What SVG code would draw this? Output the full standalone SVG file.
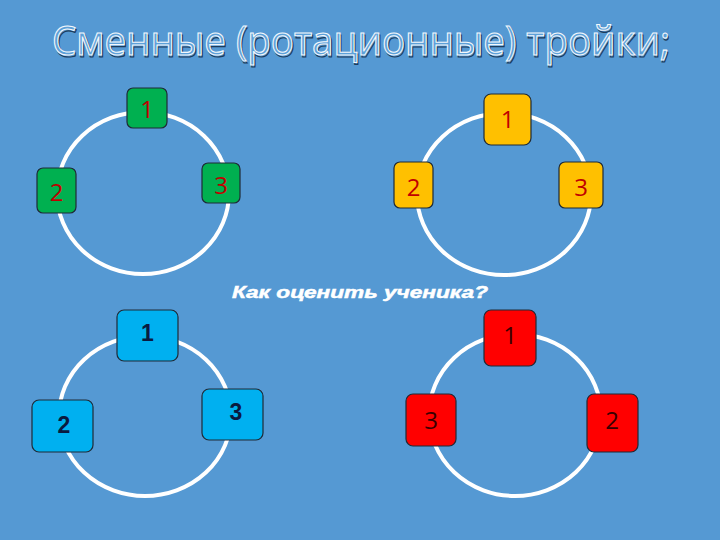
<svg xmlns="http://www.w3.org/2000/svg" width="720" height="540" viewBox="0 0 720 540">
<style>
.ring{fill:none;stroke:#ffffff;stroke-width:4}
.box{stroke:#1f2a36;stroke-width:1.2}
.g{fill:#00b050}.y{fill:#ffc000}.b{fill:#00b0f0}.r{fill:#ff0000}
.num{font-family:"Open Sans","Noto Sans",sans-serif;font-size:24px;text-anchor:middle;dominant-baseline:central}
.rd{fill:#c00000}.nv{fill:#0a1a40;font-weight:bold;font-family:"Liberation Sans",sans-serif;font-size:23px}.dk{fill:#3a0000}
.title{font-family:"Open Sans","Noto Sans",sans-serif;font-size:40px}
</style>
<rect width="720" height="540" fill="#5599d3"/>
<g id="title">
<text class="title" x="52" y="55" textLength="618" lengthAdjust="spacingAndGlyphs" fill="none" stroke="#1d3c5c" stroke-width="1.2" transform="translate(1.2,1.5)">Сменные (ротационные) тройки;</text>
<text class="title" x="52" y="55" textLength="618" lengthAdjust="spacingAndGlyphs" fill="#5da0d8" stroke="#f4f8fc" stroke-width="1.1">Сменные (ротационные) тройки;</text>
</g>
<g id="connectors">
<ellipse class="ring" cx="143" cy="193" rx="86" ry="81"/>
<ellipse class="ring" cx="504" cy="194" rx="87" ry="81"/>
<ellipse class="ring" cx="145" cy="416" rx="86" ry="80"/>
<ellipse class="ring" cx="515" cy="415" rx="86" ry="81"/>
</g>
<g id="g1"><rect class="box g" x="127" y="88" width="40" height="40" rx="6"/><text class="num rd" x="147" y="108">1</text></g>
<g id="g2"><rect class="box g" x="37" y="168" width="39" height="45" rx="6"/><text class="num rd" x="56.5" y="191">2</text></g>
<g id="g3"><rect class="box g" x="202" y="163" width="38" height="40" rx="6"/><text class="num rd" x="221" y="184">3</text></g>
<g id="y1"><rect class="box y" x="484" y="94" width="47" height="51" rx="7"/><text class="num rd" x="507.5" y="118">1</text></g>
<g id="y2"><rect class="box y" x="394" y="162" width="39" height="46" rx="6"/><text class="num rd" x="413.5" y="186">2</text></g>
<g id="y3"><rect class="box y" x="559" y="162" width="44" height="46" rx="6"/><text class="num rd" x="581" y="186">3</text></g>
<g id="b1"><rect class="box b" x="117" y="310" width="61" height="51" rx="7"/><text class="num nv" x="147.5" y="333">1</text></g>
<g id="b2"><rect class="box b" x="32" y="400" width="61" height="52" rx="7"/><text class="num nv" x="64" y="425">2</text></g>
<g id="b3"><rect class="box b" x="202" y="389" width="61" height="51" rx="7"/><text class="num nv" x="236" y="412">3</text></g>
<g id="r1"><rect class="box r" x="484" y="310" width="52" height="56" rx="7"/><text class="num dk" x="510" y="334">1</text></g>
<g id="r3"><rect class="box r" x="406" y="394" width="50" height="52" rx="7"/><text class="num dk" x="431" y="419">3</text></g>
<g id="r2"><rect class="box r" x="587" y="394" width="51" height="58" rx="7"/><text class="num dk" x="612" y="419">2</text></g>
<g id="question"><text x="232" y="298" textLength="256" lengthAdjust="spacingAndGlyphs" font-family="'Liberation Sans',sans-serif" font-size="17" font-weight="bold" font-style="italic" fill="#ffffff" stroke="#ffffff" stroke-width="0.5">Как оценить ученика?</text></g>
</svg>
